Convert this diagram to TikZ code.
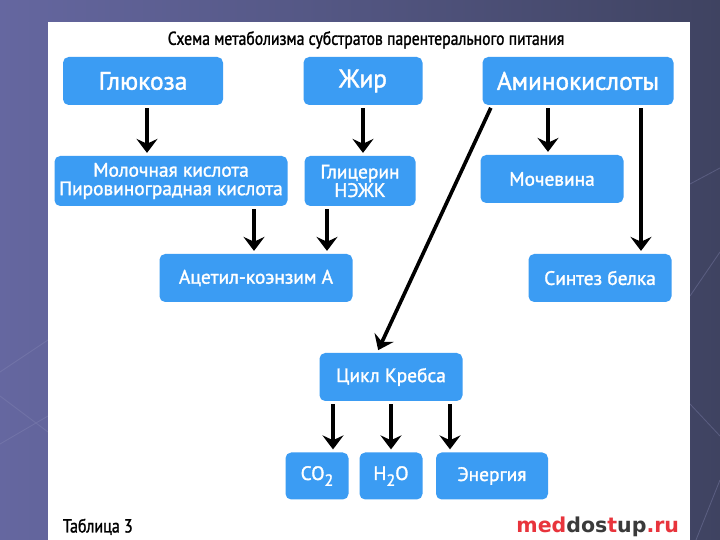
\documentclass[tikz,border=0pt]{standalone}
\usepackage{fontspec}
\setmainfont{PT Sans}
\newfontfamily\boxfont{PT Sans}[UprightFeatures={FakeBold=1.6}]
\newfontfamily\titlefont{PT Sans}[UprightFeatures={FakeStretch=0.84,FakeBold=1.4}]
\newfontfamily\markfont{DejaVu Sans}
\usetikzlibrary{arrows.meta}
\definecolor{boxblue}{HTML}{3B9CF3}
\definecolor{bgleft}{HTML}{6567A0}
\definecolor{bgright}{HTML}{3F4361}
\definecolor{bgline}{HTML}{8A8CB8}
\definecolor{markred}{HTML}{E8343C}
\definecolor{markgrey}{HTML}{3A3A3A}
\newcommand{\lowtwo}{\raisebox{-0.6ex}{\fontsize{11.5}{11.5}\selectfont 2}}

\begin{document}
\begin{tikzpicture}[every node/.style={font=\fontsize{13}{14}\selectfont},
  box/.style={rectangle,rounded corners=4pt,fill=boxblue,text=white,align=center,inner sep=1pt,font=\boxfont\fontsize{13.8}{13.2}\selectfont},
  big/.style={font=\boxfont\fontsize{18}{19}\selectfont},
  flow/.style={-{Stealth[length=10pt,width=15pt,inset=3.5pt]},line width=2.6pt,shorten <=2pt,shorten >=2pt}]
  \useasboundingbox (0,0) rectangle (18,13.5);
  % background and panel
  \shade[left color=bgleft,right color=bgright] (0,0) rectangle (18,13.5);
  \draw[bgline,opacity=0.35,line width=0.6pt] (0,4.2) -- (1.2,5.0) (0,2.4) -- (1.2,3.1) (0,3.6) -- (1.2,2.7)
    (17.25,8.9) -- (18,9.3) (17.25,6.1) -- (18,7.2) (17.25,3.4) -- (18,2.6) (17.4,0) -- (18,1.5);
  \fill[white] (1.2,0) rectangle (17.25,12.95);
  \node[font=\titlefont\fontsize{13.3}{14}\selectfont] (title) at (9.15,12.5) {Схема метаболизма субстратов парентерального питания};
  % top row
  \node[box,big,minimum width=4cm,minimum height=1.2cm] (glu) at (3.575,11.475) {Глюкоза};
  \node[box,big,minimum width=2.975cm,minimum height=1.2cm] (fat) at (9.075,11.475) {Жир};
  \node[box,big,minimum width=4.775cm,minimum height=1.2cm] (ami) at (14.45,11.475) {Аминокислоты};
  % second row
  \node[box,minimum width=5.825cm,minimum height=1.25cm] (lac) at (4.275,8.975) {Молочная кислота\\Пировиноградная кислота};
  \node[box,minimum width=2.775cm,minimum height=1.25cm] (gly) at (9.0,8.975) {Глицерин\\НЭЖК};
  \node[box,minimum width=3.575cm,minimum height=1.2cm] (urea) at (13.8,9.025) {Мочевина};
  % third row
  \node[box,minimum width=4.825cm,minimum height=1.2cm] (acetyl) at (6.4,6.55) {Ацетил-коэнзим А};
  \node[box,minimum width=3.575cm,minimum height=1.2cm] (prot) at (15.0,6.55) {Синтез белка};
  \node[box,minimum width=3.575cm,minimum height=1.2cm] (krebs) at (9.775,4.075) {Цикл Кребса};
  % products
  \node[box,minimum width=1.575cm,minimum height=1.175cm] (co2) at (7.925,1.6) {CO\lowtwo};
  \node[box,minimum width=1.575cm,minimum height=1.175cm] (h2o) at (9.775,1.6) {H\lowtwo O};
  \node[box,minimum width=2.8cm,minimum height=1.175cm] (energy) at (12.3,1.6) {Энергия};
  % arrows
  \foreach \a/\b/\x in {glu/lac/3.675,fat/gly/9.075,ami/urea/13.7,ami/prot/16.025,lac/acetyl/6.35,gly/acetyl/8.175,krebs/co2/8.325,krebs/h2o/9.775,krebs/energy/11.25}
    {\draw[flow] (\a.south -| \x,0) -- (\b.north -| \x,0);}
  \draw[flow] (ami.south -| 12.3,0) -- (krebs.north -| 9.425,0);
  % footer
  \node[anchor=west,font=\titlefont\fontsize{13.5}{14}\selectfont] (tab) at (1.45,0.33) {Таблица 3};
  \node[anchor=east,font=\markfont\bfseries\fontsize{14.6}{16}\selectfont] (mark) at (17.1,0.33)
    {\textcolor{markred}{med}\textcolor{markgrey}{dos}\textcolor{markred}{t}\textcolor{markgrey}{up}\textcolor{markred}{.ru}};
\end{tikzpicture}
\end{document}
